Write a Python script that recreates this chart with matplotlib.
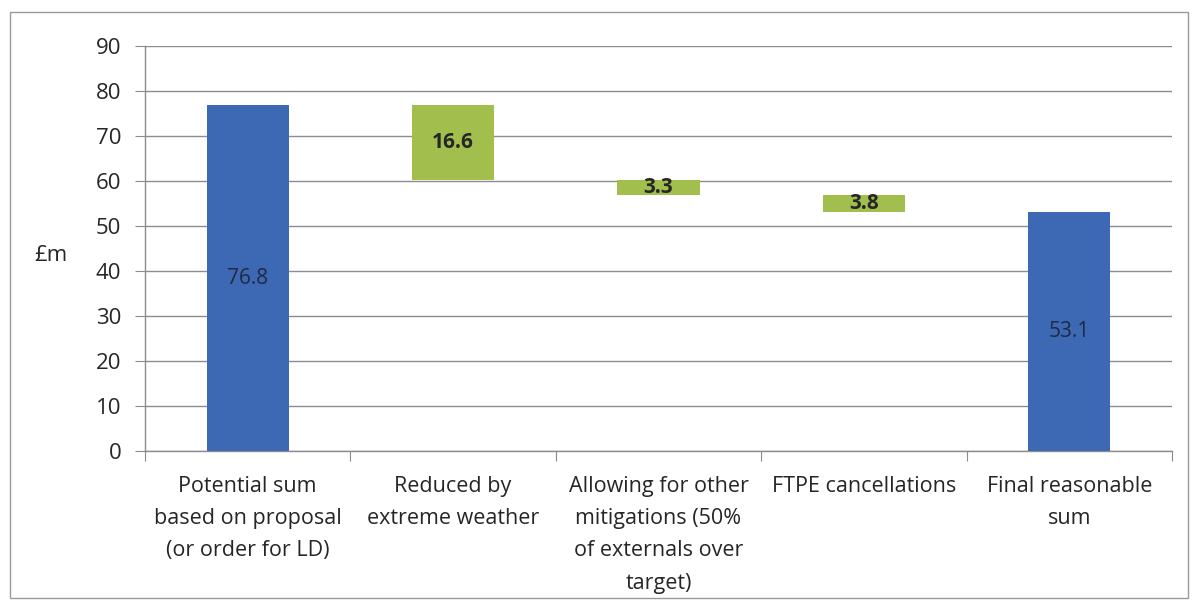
import matplotlib
matplotlib.use("Agg")
import matplotlib.pyplot as plt
from matplotlib.patches import Rectangle

categories = [
    "Potential sum\nbased on proposal\n(or order for LD)",
    "Reduced by\nextreme weather",
    "Allowing for other\nmitigations (50%\nof externals over\ntarget)",
    "FTPE cancellations",
    "Final reasonable\nsum",
]
start_total = 76.8
reductions = [16.6, 3.3, 3.8]
final_total = 53.1
y_ticks = [0, 10, 20, 30, 40, 50, 60, 70, 80, 90]

blue = "#3d68b3"
green = "#a2bf4e"
grid_col = "#8c8c8c"
text_col = "#262626"

plt.rcParams["font.family"] = ["Open Sans", "DejaVu Sans"]

fig = plt.figure(figsize=(11.93, 6.04), dpi=100)
fig.patches.append(Rectangle((10 / 1193, 6 / 604), 1178 / 1193, 586 / 604,
                             transform=fig.transFigure, fill=False,
                             edgecolor="#9a9a9a", linewidth=1.0))

ax = fig.add_axes([145 / 1193, 1 - 451 / 604, 1027 / 1193, 405 / 604])

x = list(range(len(categories)))
width = 0.4

# waterfall: floating reduction bars between the two totals
bottoms = []
level = start_total
for r in reductions:
    level -= r
    bottoms.append(level)

ax.bar(x[0], start_total, width=width, color=blue, zorder=3)
ax.bar(x[1:4], reductions, bottom=bottoms, width=width, color=green, zorder=3)
ax.bar(x[4], final_total, width=width, color=blue, zorder=3)

ax.text(x[0], start_total / 2, f"{start_total:.1f}", ha="center", va="center",
        fontsize=15, color="#1f2a44", zorder=4)
for xi, r, b in zip(x[1:4], reductions, bottoms):
    ax.text(xi, b + r / 2, f"{r:.1f}", ha="center", va="center",
            fontsize=15, fontweight="bold", color=text_col, zorder=4)
ax.text(x[4], final_total / 2, f"{final_total:.1f}", ha="center", va="center",
        fontsize=15, color="#1f2a44", zorder=4)

ax.set_xlim(-0.5, len(categories) - 0.5)
ax.set_ylim(0, 90)
ax.set_yticks(y_ticks)
ax.set_yticklabels([str(t) for t in y_ticks], fontsize=16, color=text_col)
ax.yaxis.grid(True, color=grid_col, linewidth=1.0, zorder=0)
ax.set_axisbelow(True)

ax.set_xticks([i - 0.5 for i in range(len(categories) + 1)], minor=False)
ax.set_xticklabels([])
ax.set_xticks(x, minor=True)
ax.set_xticklabels(categories, minor=True, fontsize=15.5, color=text_col,
                   linespacing=1.7, va="top")
ax.tick_params(axis="x", which="minor", length=0, pad=18)
ax.tick_params(axis="x", which="major", length=7, color=grid_col, direction="out")
ax.tick_params(axis="y", length=7, color=grid_col, direction="out", pad=10)

for side in ("top", "right"):
    ax.spines[side].set_visible(False)
for side in ("left", "bottom"):
    ax.spines[side].set_color(grid_col)
    ax.spines[side].set_linewidth(1.0)

fig.text(34 / 1193, 1 - 256 / 604, "£m", fontsize=16, color=text_col,
         ha="left", va="center")

fig.savefig("out.png", dpi=100)
